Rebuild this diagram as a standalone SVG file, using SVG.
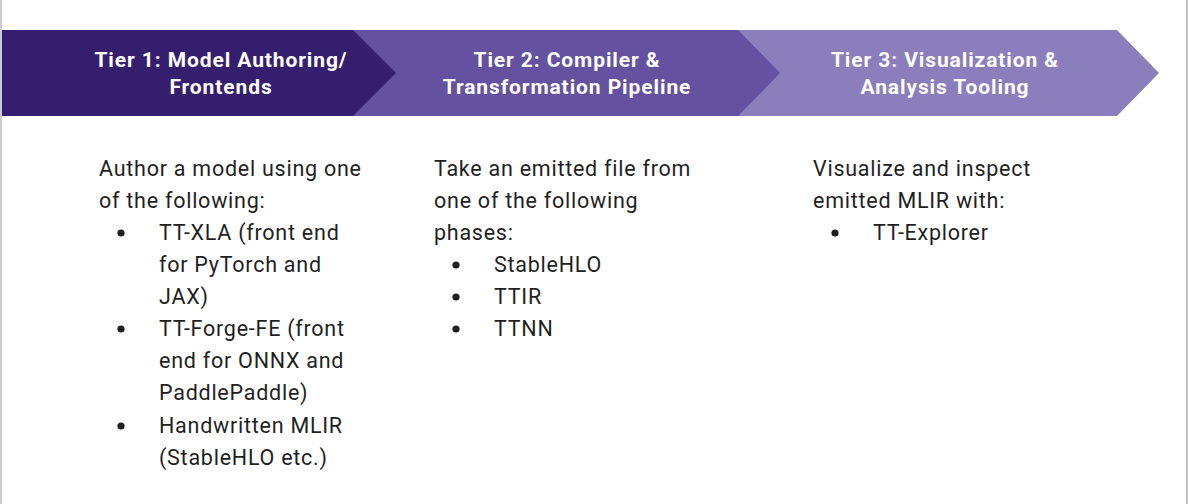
<svg xmlns="http://www.w3.org/2000/svg" width="1188" height="504" viewBox="0 0 1188 504">
<style>
.hd{font-family:Roboto,"Liberation Sans",sans-serif;font-weight:bold;font-size:21px;letter-spacing:0.9px;fill:#ffffff;text-anchor:middle}
.bd{font-family:Roboto,"Liberation Sans",sans-serif;font-size:21.5px;letter-spacing:0.75px;fill:#1f1f1f}
.bl{fill:#1f1f1f}
</style>
<rect x="0" y="0" width="1188" height="504" fill="#ffffff"/>
<rect x="0" y="0" width="2" height="504" fill="#cccccc"/>
<rect x="1186" y="0" width="2" height="504" fill="#c4c4c4"/>
<g id="tier3">
<polygon points="738,30 1117,30 1159,73 1117,116 738,116" fill="#8a7ebd"/>
<text class="hd" x="945" y="67">Tier 3: Visualization &amp;</text>
<text class="hd" x="945" y="94">Analysis Tooling</text>
<text class="bd" x="813" y="176">Visualize and inspect</text>
<text class="bd" x="813" y="208">emitted MLIR with:</text>
<circle class="bl" cx="835" cy="233" r="3.6"/>
<text class="bd" x="873" y="240">TT-Explorer</text>
</g>
<g id="tier2">
<polygon points="353,30 738,30 780,73 738,116 353,116" fill="#6451a0"/>
<text class="hd" x="567" y="67">Tier 2: Compiler &amp;</text>
<text class="hd" x="567" y="94">Transformation Pipeline</text>
<text class="bd" x="434" y="176">Take an emitted file from</text>
<text class="bd" x="434" y="208">one of the following</text>
<text class="bd" x="434" y="240">phases:</text>
<circle class="bl" cx="456" cy="265" r="3.6"/>
<text class="bd" x="494" y="272">StableHLO</text>
<circle class="bl" cx="456" cy="297" r="3.6"/>
<text class="bd" x="494" y="304">TTIR</text>
<circle class="bl" cx="456" cy="329" r="3.6"/>
<text class="bd" x="494" y="336">TTNN</text>
</g>
<g id="tier1">
<polygon points="2,30 353,30 396,73 353,116 2,116" fill="#351e6e"/>
<text class="hd" x="221" y="67">Tier 1: Model Authoring/</text>
<text class="hd" x="221" y="94">Frontends</text>
<text class="bd" x="99" y="176">Author a model using one</text>
<text class="bd" x="99" y="208">of the following:</text>
<circle class="bl" cx="121" cy="233" r="3.6"/>
<text class="bd" x="159" y="240">TT-XLA (front end</text>
<text class="bd" x="159" y="272">for PyTorch and</text>
<text class="bd" x="159" y="304">JAX)</text>
<circle class="bl" cx="121" cy="329" r="3.6"/>
<text class="bd" x="159" y="336">TT-Forge-FE (front</text>
<text class="bd" x="159" y="368">end for ONNX and</text>
<text class="bd" x="159" y="400">PaddlePaddle)</text>
<circle class="bl" cx="121" cy="426" r="3.6"/>
<text class="bd" x="159" y="433">Handwritten MLIR</text>
<text class="bd" x="159" y="465">(StableHLO etc.)</text>
</g>
<g id="connectors"/>
</svg>
